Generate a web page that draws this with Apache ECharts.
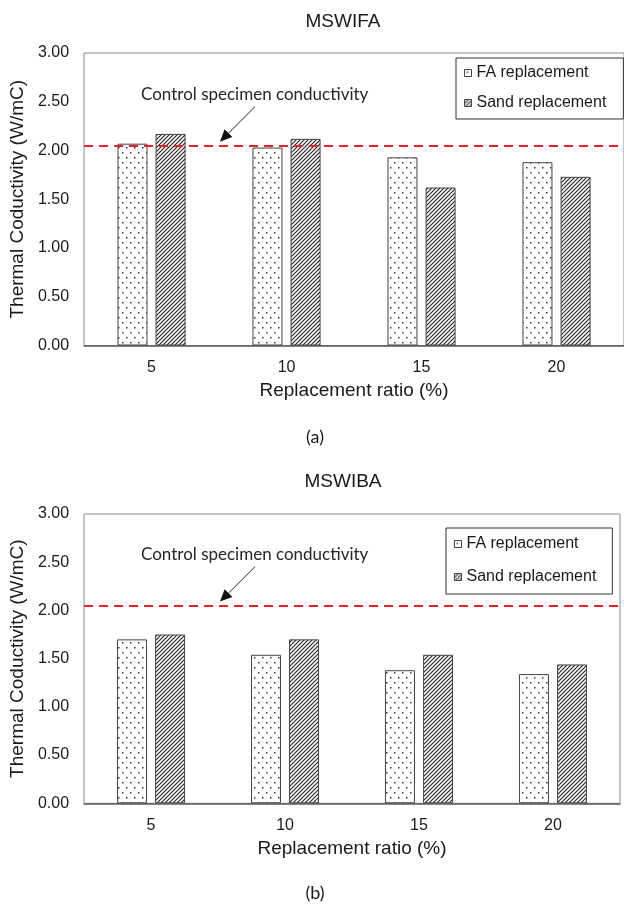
<!DOCTYPE html>
<html>
<head>
<meta charset="utf-8">
<script src="https://cdn.jsdelivr.net/npm/echarts@6/dist/echarts.min.js"></script>
<style>
  html, body { margin: 0; padding: 0; background: #fff; }
  #chart { width: 624px; height: 906px; }
</style>
</head>
<body>
<div id="chart"></div>
<script>
// Replacement ratios (%) on the x axis
const categories = ['5', '10', '15', '20'];
// y axis ticks
const yTicks = [0, 0.5, 1, 1.5, 2, 2.5, 3];

// MSWIFA: thermal conductivity (W/mC)
const faA = [2.07, 2.03, 1.93, 1.88];
const sandA = [2.17, 2.12, 1.62, 1.73];
// MSWIBA: thermal conductivity (W/mC)
const faB = [1.70, 1.54, 1.38, 1.34];
const sandB = [1.75, 1.70, 1.54, 1.44];
// reference level of the control specimen
const controlA = 2.05;
const controlB = 2.05;

const SANS = '"Liberation Sans", Arial, sans-serif';
const NOTE = 'Lato, "Open Sans", sans-serif';

// fill tiles: sparse staggered dots and dense diagonal hatching
function dotTile() {
  const c = document.createElement('canvas');
  c.width = 8; c.height = 10;
  const g = c.getContext('2d');
  g.fillStyle = '#fff'; g.fillRect(0, 0, 8, 10);
  g.fillStyle = '#3a3a3a';
  g.fillRect(2, 2, 1.5, 1.5);
  g.fillRect(6, 7, 1.5, 1.5);
  return c;
}
function hatchTile() {
  const c = document.createElement('canvas');
  c.width = 4; c.height = 4;
  const g = c.getContext('2d');
  g.fillStyle = '#fff'; g.fillRect(0, 0, 4, 4);
  g.strokeStyle = '#2a2a2a'; g.lineWidth = 1.2;
  g.beginPath();
  g.moveTo(-1, 5); g.lineTo(5, -1);
  g.moveTo(-3, 3); g.lineTo(3, -3);
  g.moveTo(1, 7); g.lineTo(7, 1);
  g.stroke();
  return c;
}
const dotFill = { image: dotTile(), repeat: 'repeat' };
const hatchFill = { image: hatchTile(), repeat: 'repeat' };

const grids = [
  { left: 84, top: 53, width: 543, height: 292.5 },
  { left: 83, top: 514, width: 537, height: 289.3 }
];

function xAxisFor(i) {
  return {
    gridIndex: i, type: 'category', data: categories,
    name: 'Replacement ratio (%)', nameLocation: 'middle', nameGap: 36,
    nameTextStyle: { fontFamily: SANS, fontSize: 19, color: '#1a1a1a' },
    axisLine: { lineStyle: { color: '#595959', width: 1.5 } },
    axisTick: { show: false },
    axisLabel: { fontFamily: SANS, fontSize: 16, color: '#1a1a1a', margin: 14 }
  };
}
function yAxisFor(i) {
  return {
    gridIndex: i, type: 'value', min: yTicks[0], max: yTicks[yTicks.length - 1], interval: 0.5,
    name: 'Thermal Coductivity (W/mC)', nameLocation: 'middle', nameGap: 56,
    nameTextStyle: { fontFamily: SANS, fontSize: 19, color: '#1a1a1a' },
    axisLine: { show: false }, axisTick: { show: false }, splitLine: { show: false },
    axisLabel: { fontFamily: SANS, fontSize: 16, color: '#1a1a1a', margin: 15,
      formatter: v => v.toFixed(2) }
  };
}
function barSeries(name, data, fill, i, control) {
  const s = {
    name, type: 'bar', xAxisIndex: i, yAxisIndex: i, data,
    barWidth: 30, barGap: '27%',
    itemStyle: { color: fill, borderColor: '#444', borderWidth: 1 },
    emphasis: { disabled: true }, animation: false
  };
  if (control !== undefined) {
    s.markLine = {
      silent: true, symbol: 'none', animation: false,
      label: { show: false },
      lineStyle: { color: '#f01e1e', type: [9, 6], width: 2 },
      data: [{ yAxis: control }]
    };
  }
  return s;
}
function legendFor(i, pos) {
  return Object.assign({
    orient: 'vertical', selectedMode: false,
    data: ['FA replacement', 'Sand replacement'],
    icon: 'rect',
    borderColor: '#333', borderWidth: 1,
    itemWidth: 7, itemHeight: 7, itemGap: 12,
    itemStyle: { borderColor: '#444', borderWidth: 1 },
    textStyle: { fontFamily: SANS, fontSize: 16, color: '#1a1a1a', lineHeight: 18 }
  }, pos);
}

const chart = echarts.init(document.getElementById('chart'), null, { renderer: 'canvas' });
chart.setOption({
  backgroundColor: '#fff',
  animation: false,
  grid: grids.map(g => Object.assign({ show: true, borderColor: '#8c8c8c', borderWidth: 1, backgroundColor: 'transparent' }, g)),
  xAxis: [xAxisFor(0), xAxisFor(1)],
  yAxis: [yAxisFor(0), yAxisFor(1)],
  legend: [
    legendFor(0, { left: 456, top: 58, padding: [6, 17, 7, 8] }),
    legendFor(1, { left: 446, top: 528, padding: [7, 16, 8, 8], itemGap: 15 })
  ],
  series: [
    barSeries('FA replacement', faA, dotFill, 0, controlA),
    barSeries('Sand replacement', sandA, hatchFill, 0),
    barSeries('FA replacement', faB, dotFill, 1, controlB),
    barSeries('Sand replacement', sandB, hatchFill, 1)
  ]
});

// titles, captions and the arrow pointing at the control level
function annotation(gridIdx, control, titleText, titleY, capText, capY) {
  const yLine = chart.convertToPixel({ yAxisIndex: gridIdx }, control);
  const tip = [220, yLine - 4];
  const tail = [255, yLine - 39];
  const ang = Math.atan2(tip[1] - tail[1], tip[0] - tail[0]);
  const L = 12, W = 5.5;
  const bx = tip[0] - L * Math.cos(ang), by = tip[1] - L * Math.sin(ang);
  const px = -Math.sin(ang) * W, py = Math.cos(ang) * W;
  return [
    { type: 'text', x: 343, y: titleY,
      style: { text: titleText, font: '19px ' + SANS, fill: '#1a1a1a', align: 'center', verticalAlign: 'middle' } },
    { type: 'text', x: 315, y: capY,
      style: { text: capText, font: '18px ' + NOTE, fill: '#1a1a1a', align: 'center', verticalAlign: 'middle' } },
    { type: 'text', x: 141, y: yLine - 51,
      style: { text: 'Control specimen conductivity', font: '17px ' + NOTE, fill: '#262626', align: 'left', verticalAlign: 'middle' } },
    { type: 'line', shape: { x1: tail[0], y1: tail[1], x2: bx, y2: by },
      style: { stroke: '#222', lineWidth: 1 } },
    { type: 'polygon', shape: { points: [tip, [bx + px, by + py], [bx - px, by - py]] },
      style: { fill: '#111' } }
  ];
}
chart.setOption({
  graphic: [].concat(
    annotation(0, controlA, 'MSWIFA', 22, '(a)', 437),
    annotation(1, controlB, 'MSWIBA', 482, '(b)', 893)
  )
});
</script>
</body>
</html>
